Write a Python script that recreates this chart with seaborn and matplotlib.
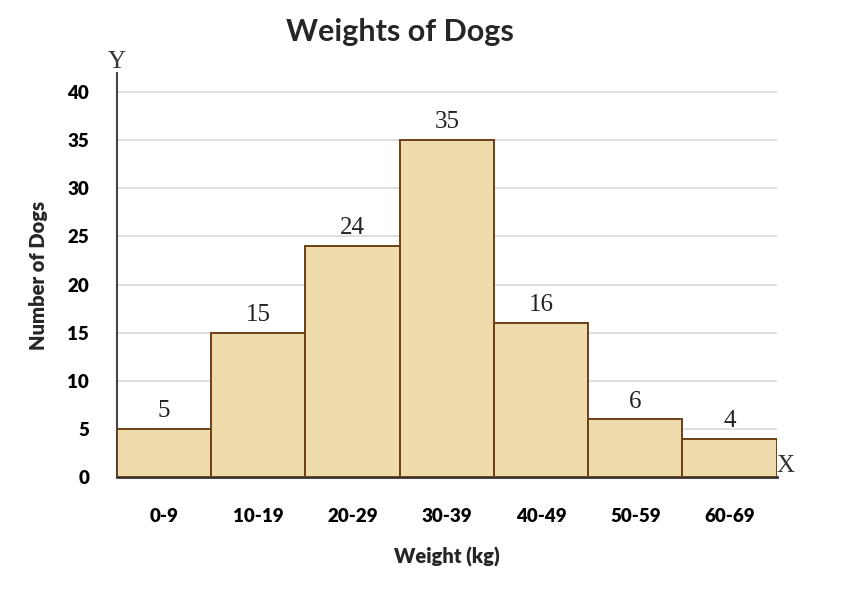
import pandas as pd
import matplotlib.pyplot as plt
import seaborn as sns

# Weight classes and counts
weights = ['0-9', '10-19', '20-29', '30-39', '40-49', '50-59', '60-69']
counts = [5, 15, 24, 35, 16, 6, 4]

df = pd.DataFrame({'weight': weights, 'count': counts})

sns.set_style('white')
plt.rcParams['font.family'] = ['Lato', 'DejaVu Sans']

fig = plt.figure(figsize=(8.6, 5.92), dpi=100)
ax = fig.add_axes([0.136, 0.194, 0.767, 0.683])

sns.barplot(data=df, x='weight', y='count', color='#efdcac', edgecolor='#6e3f14',
            linewidth=1.4, width=1.0, saturation=1, ax=ax, zorder=3)

for i, c in enumerate(counts):
    ax.text(i, c + 0.7, str(c), ha='center', va='bottom', fontsize=18,
            family='Liberation Serif', color='#222222')

ax.set_xlim(-0.5, len(weights) - 0.5)
ax.set_ylim(0, 42)
ax.set_yticks(range(0, 41, 5))
ax.yaxis.grid(True, color='#d9d9d9', linewidth=1.2, zorder=0)
ax.set_axisbelow(True)

for s in ['top', 'right']:
    ax.spines[s].set_visible(False)
ax.spines['left'].set_color('#444444')
ax.spines['bottom'].set_color('#333333')
ax.spines['left'].set_linewidth(1.5)
ax.spines['bottom'].set_linewidth(2)
ax.tick_params(axis='both', length=0, labelsize=13.5, labelcolor='black')
ax.tick_params(axis='x', pad=22)
ax.tick_params(axis='y', pad=20)
for lbl in ax.get_xticklabels() + ax.get_yticklabels():
    lbl.set_fontweight('heavy')

ax.set_xlabel('Weight (kg)', fontsize=14.5, fontweight='heavy', labelpad=16)
ax.set_ylabel('Number of Dogs', fontsize=14.5, fontweight='heavy', labelpad=14)

ax.text(0.0, 1.0, 'Y', transform=ax.transAxes, ha='center', va='bottom',
        fontsize=18, family='Liberation Serif', color='#333333')
ax.text(1.0, 0.0, 'X', transform=ax.transAxes, ha='left', va='bottom',
        fontsize=18, family='Liberation Serif', color='#333333')

fig.suptitle('Weights of Dogs', x=0.465, y=0.97, fontsize=22, fontweight='bold')

fig.savefig('out.png', dpi=100)
